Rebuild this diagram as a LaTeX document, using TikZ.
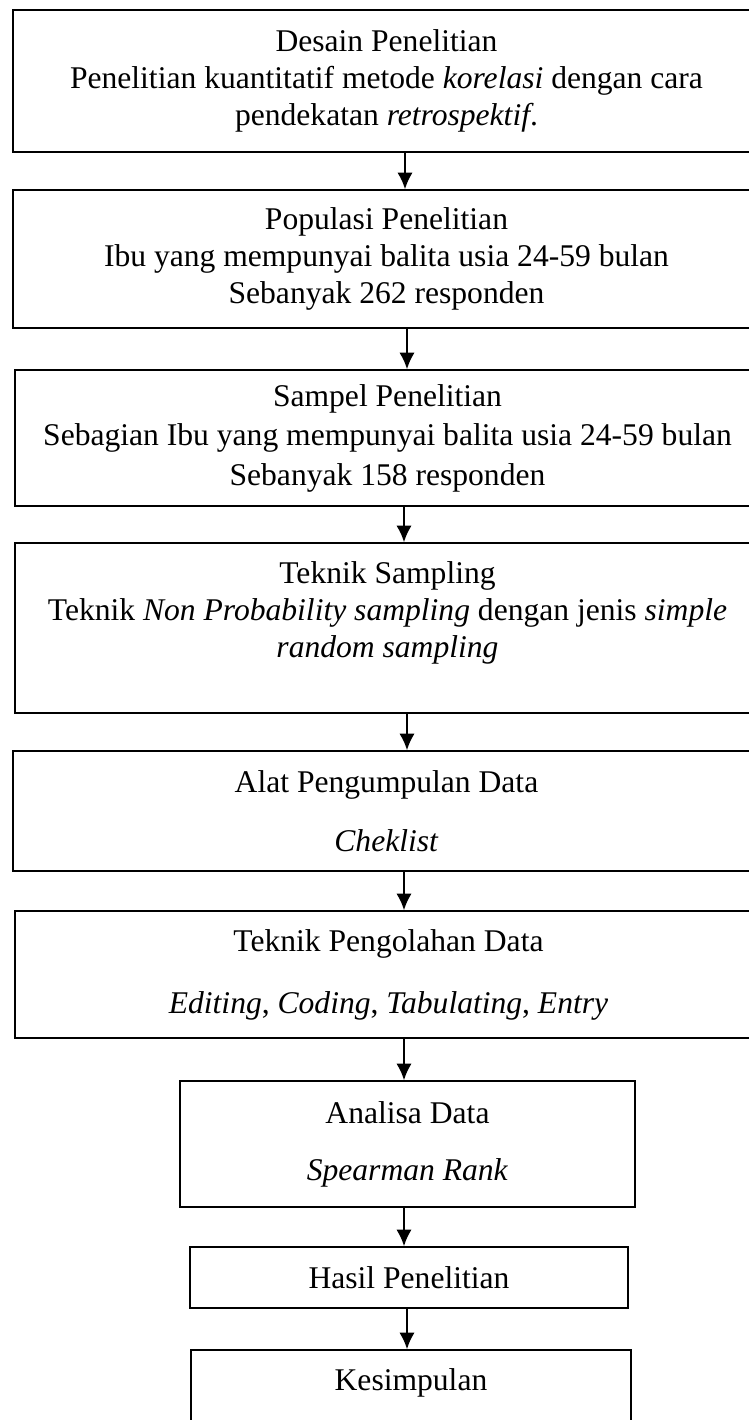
\documentclass[tikz,border=0pt]{standalone}
\usepackage{fontspec}
\setmainfont{Liberation Serif}
\usetikzlibrary{arrows.meta}
\newcommand{\upx}{0.3799pt}

\begin{document}
\begin{tikzpicture}[x=\upx,y=-\upx]
			\tikzstyle{kotak}=[draw, line width=0.55pt, rectangle, align=center, inner sep=0pt, font=\fontsize{12}{14}\selectfont]
			\tikzstyle{panah}=[-{Latex[length=6.3pt,width=5.8pt]}, line width=0.8pt]
			\useasboundingbox (0,0) rectangle (749,1420);
			\clip (0,0) rectangle (749,1420);
			\node[kotak, minimum width=747*\upx, minimum height=142*\upx] (desain) at (386.5,81)
				{Desain Penelitian\\Penelitian kuantitatif metode \textit{korelasi} dengan cara\\pendekatan \textit{retrospektif}.};
			\node[kotak, minimum width=747*\upx, minimum height=138*\upx] (populasi) at (386.5,259)
				{Populasi Penelitian\\Ibu yang mempunyai balita usia 24-59 bulan\\Sebanyak 262 responden};
			\node[kotak, minimum width=745*\upx, minimum height=136*\upx] (sampel) at (387.5,438)
				{Sampel Penelitian\\[1pt]Sebagian Ibu yang mempunyai balita usia 24-59 bulan\\[1pt]Sebanyak 158 responden};
			\node[kotak, minimum width=745*\upx, minimum height=170*\upx] (sampling) at (387.5,628)
				{Teknik Sampling\\Teknik \textit{Non Probability sampling} dengan jenis \textit{simple}\\\textit{random sampling}\\\mbox{}};
			\node[kotak, minimum width=747*\upx, minimum height=120*\upx] (alat) at (386.5,811)
				{Alat Pengumpulan Data\\[8.4pt]\textit{Cheklist}};
			\node[kotak, minimum width=747*\upx, minimum height=127*\upx] (olah) at (388.5,974.5)
				{Teknik Pengolahan Data\\[9.6pt]\textit{Editing}, \textit{Coding}, \textit{Tabulating}, \textit{Entry}};
			\node[kotak, minimum width=455*\upx, minimum height=126*\upx] (analisa) at (407.5,1144)
				{Analisa Data\\[7.7pt]\textit{Spearman Rank}};
			\node[kotak, minimum width=438*\upx, minimum height=61*\upx] (hasil) at (409,1277.5)
				{Hasil Penelitian};
			\node[kotak, minimum width=440*\upx, minimum height=96*\upx] (simpulan) at (411,1398)
				{Kesimpulan\\\mbox{}};
			\foreach \a/\b/\x in {desain/populasi/405, populasi/sampel/407, sampel/sampling/404, sampling/alat/407, alat/olah/404, olah/analisa/404, analisa/hasil/404, hasil/simpulan/407}{
				\coordinate (ax) at (\x,0);
				\draw[panah] (\a.south -| ax) -- (\b.north -| ax);
			}
		\end{tikzpicture}
\end{document}
